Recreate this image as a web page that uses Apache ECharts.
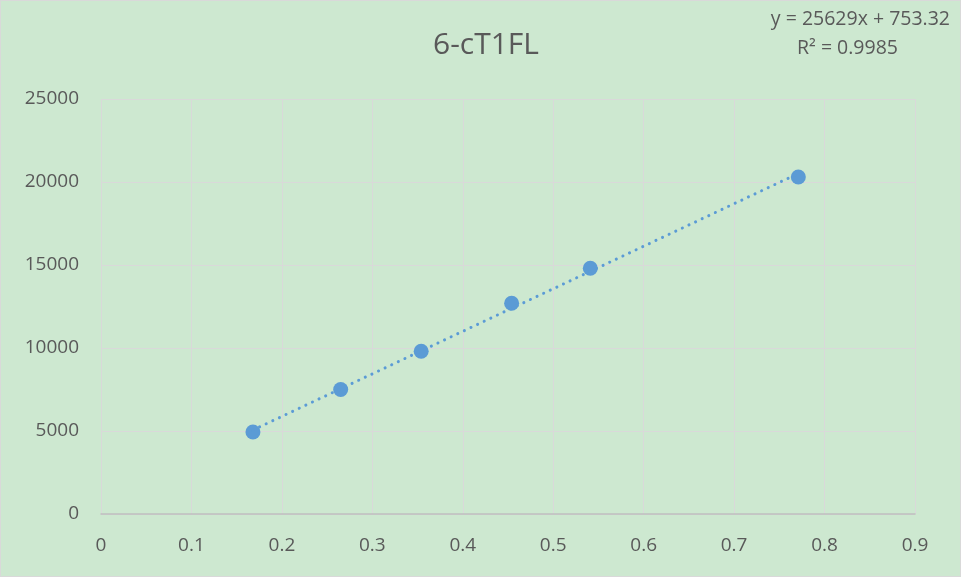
<!DOCTYPE html>
<html><head><meta charset="utf-8">
<script src="https://cdn.jsdelivr.net/npm/echarts@6/dist/echarts.min.js"></script>
<style>html,body{margin:0;padding:0;background:#cde8d0}#c{width:961px;height:577px}</style>
</head><body><div id="c"></div>
<script>
const xValues = [0.168, 0.265, 0.354, 0.454, 0.541, 0.771];
const yValues = [4940, 7500, 9800, 12700, 14800, 20300];
const slope = 25629, intercept = 753.32;
const xTicks = [0,0.1,0.2,0.3,0.4,0.5,0.6,0.7,0.8,0.9];
const yTicks = [0,5000,10000,15000,20000,25000];

const pts = xValues.map((x,i)=>[x,yValues[i]]);
const xMin = Math.min(...xValues), xMax = Math.max(...xValues);
const trend = [[xMin, slope*xMin+intercept],[xMax, slope*xMax+intercept]];
const font = '"Open Sans", sans-serif';
const chart = echarts.init(document.getElementById('c'));
chart.setOption({
  backgroundColor: '#cde8d0',
  animation: false,
  title: {text: '6-cT1FL', left: 481, top: 25, textAlign: 'center',
    textStyle: {fontFamily: font, fontSize: 30, fontWeight: 'normal', color: '#595959'}},
  graphic: [
    {type:'rect', shape:{x:0.5,y:0.5,width:960,height:576}, style:{fill:'none', stroke:'#d9d9d9', lineWidth:1}},
    {type:'text', right: 11, top: 9, style:{text:'y = 25629x + 753.32', fontFamily: font, fontSize: 19.5, fill:'#595959'}},
    {type:'text', left: 797, top: 38, style:{text:'R² = 0.9985', fontFamily: font, fontSize: 19.5, fill:'#595959'}}
  ],
  grid: {left: 101, right: 46, top: 99, bottom: 63},
  xAxis: {type:'value', min:0, max:0.9, interval:0.1,
    axisLine:{show:true, lineStyle:{color:'#bfbfbf', width:1.5}}, axisTick:{show:false},
    axisLabel:{color:'#595959', fontSize:19, fontFamily: font, margin: 22},
    splitLine:{show:true, lineStyle:{color:'#d9d9d9', width:1}}},
  yAxis: {type:'value', min:0, max:25000, interval:5000,
    axisLine:{show:false}, axisTick:{show:false},
    axisLabel:{color:'#595959', fontSize:19, fontFamily: font, margin: 22, formatter: v => String(v)},
    splitLine:{show:true, lineStyle:{color:'#d9d9d9', width:1}}},
  series: [
    {type:'line', data: trend, symbol:'none', silent:true,
      lineStyle:{color:'#5b9bd5', width:3, type:[0.1,7.2], cap:'round'}},
    {type:'scatter', data: pts, symbol:'circle', symbolSize: 15,
      itemStyle:{color:'#5b9bd5', opacity:1}}
  ]
});
</script></body></html>
